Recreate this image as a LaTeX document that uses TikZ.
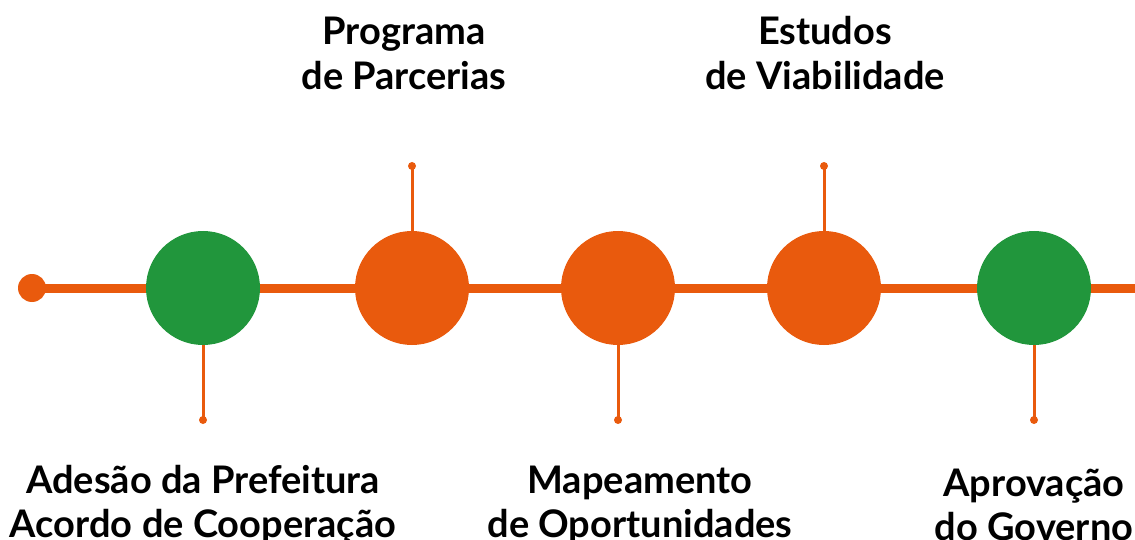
\documentclass[tikz,border=0pt]{standalone}
\usepackage{fontspec}
\setmainfont{Lato}
\definecolor{tlorange}{HTML}{E95A0D}
\definecolor{tlgreen}{HTML}{21963C}
\begin{document}
\begin{tikzpicture}[x=1pt,y=-1pt,
  mainline/.style={draw=tlorange,line width=9pt},
  stem/.style={draw=tlorange,line width=3pt},
  bigdot/.style={circle,fill=#1,minimum size=114pt,inner sep=0pt},
  enddot/.style={circle,fill=tlorange,minimum size=8pt,inner sep=0pt},
  startdot/.style={circle,fill=tlorange,minimum size=28pt,inner sep=0pt},
  lbl/.style={anchor=base,inner sep=0pt,font=\fontsize{38}{44}\selectfont\bfseries,text=black}]
\useasboundingbox (0,0) rectangle (1135,540);
\node[startdot] (s) at (32,288) {};
\coordinate (e) at (1135,288);
\draw[mainline] (s.center) -- (e);
\node[bigdot=tlgreen] (c1) at (203,288) {};
\node[bigdot=tlorange] (c2) at (412,288) {};
\node[bigdot=tlorange] (c3) at (618,288) {};
\node[bigdot=tlorange] (c4) at (824,288) {};
\node[bigdot=tlgreen] (c5) at (1034,288) {};
\node[enddot] (d1) at (203,420) {};
\node[enddot] (d2) at (412,166) {};
\node[enddot] (d3) at (618,420) {};
\node[enddot] (d4) at (824,166) {};
\node[enddot] (d5) at (1034,420) {};
\draw[stem] (c1.south) -- (d1.center);
\draw[stem] (c2.north) -- (d2.center);
\draw[stem] (c3.south) -- (d3.center);
\draw[stem] (c4.north) -- (d4.center);
\draw[stem] (c5.south) -- (d5.center);
\node[lbl] (t2a) at (404,45) {Programa};
\node[lbl] (t2b) at (404,90) {de Parcerias};
\node[lbl] (t4a) at (825,45) {Estudos};
\node[lbl] (t4b) at (825,90) {de Viabilidade};
\node[lbl] (t1a) at (203,493) {Adesão da Prefeitura};
\node[lbl] (t1b) at (203,537) {Acordo de Cooperação};
\node[lbl] (t3a) at (640,493) {Mapeamento};
\node[lbl] (t3b) at (640,537) {de Oportunidades};
\node[lbl] (t5a) at (1034,496) {Aprovação};
\node[lbl] (t5b) at (1034,540) {do Governo};
\end{tikzpicture}
\end{document}
